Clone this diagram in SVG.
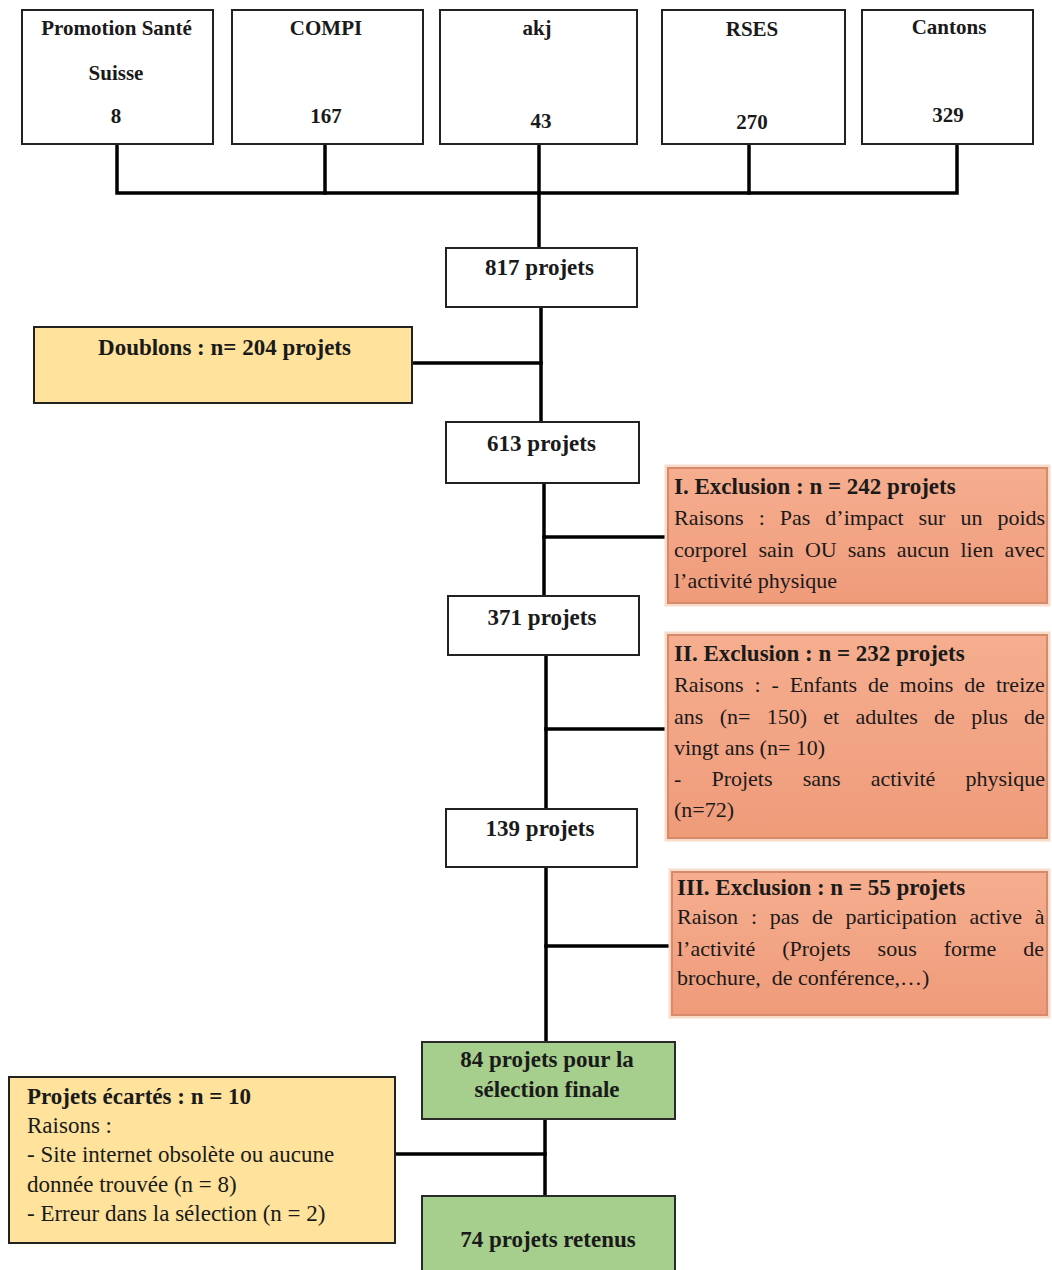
<svg xmlns="http://www.w3.org/2000/svg" width="1052" height="1270" viewBox="0 0 1052 1270">
<defs>
<linearGradient id="salGrad" x1="0" y1="0" x2="0" y2="1">
<stop offset="0" stop-color="#F5AE8F"/>
<stop offset="1" stop-color="#EF9B7A"/>
</linearGradient>
</defs>
<style>
.box{fill:#fff;stroke:#222;stroke-width:2}
.yel{fill:#FFE29B;stroke:#222;stroke-width:2}
.sal{fill:url(#salGrad);stroke:#D68A6B;stroke-width:2}
.glow{fill:none;stroke:#F8DCC9;stroke-width:7}
.grn{fill:#A6CF8D;stroke:#2a2a2a;stroke-width:2}
.conn path{stroke:#000;stroke-width:3.5;fill:none;stroke-linecap:square}
text{font-family:"Liberation Serif","Times New Roman",serif;fill:#1a1a1a}
.b{font-weight:bold}
.s21{font-size:21px}
.s22{font-size:22px}
.s23{font-size:23px}
.mid{text-anchor:middle}
</style>
<rect width="1052" height="1270" fill="#fff"/>

<g id="connectors" class="conn">
<path d="M117 144V193H957V144"/>
<path d="M325 144V193"/>
<path d="M749 144V193"/>
<path d="M539 144V248"/>
<path d="M541 307V422"/>
<path d="M412 363H541"/>
<path d="M544 483V596"/>
<path d="M544 537H668"/>
<path d="M546 655V809"/>
<path d="M546 729H668"/>
<path d="M546 867V1042"/>
<path d="M546 946H672"/>
<path d="M545 1119V1196"/>
<path d="M395 1154H545"/>
</g>

<g id="src-promotion">
<rect class="box" x="22" y="10" width="191" height="134"/>
<text class="b s21 mid" x="116.5" y="35">Promotion Santé</text>
<text class="b s21 mid" x="116" y="80">Suisse</text>
<text class="b s21 mid" x="116" y="123">8</text>
</g>
<g id="src-compi">
<rect class="box" x="232" y="10" width="191" height="134"/>
<text class="b s21 mid" x="326" y="35">COMPI</text>
<text class="b s21 mid" x="326" y="123">167</text>
</g>
<g id="src-akj">
<rect class="box" x="440" y="10" width="197" height="134"/>
<text class="b s21 mid" x="537" y="35">akj</text>
<text class="b s21 mid" x="541" y="128">43</text>
</g>
<g id="src-rses">
<rect class="box" x="662" y="10" width="183" height="134"/>
<text class="b s21 mid" x="752" y="36">RSES</text>
<text class="b s21 mid" x="752" y="129">270</text>
</g>
<g id="src-cantons">
<rect class="box" x="862" y="10" width="171" height="134"/>
<text class="b s21 mid" x="949" y="34">Cantons</text>
<text class="b s21 mid" x="948" y="122">329</text>
</g>

<g id="n817">
<rect class="box" x="446" y="248" width="191" height="59"/>
<text class="b s23 mid" x="539.5" y="275">817 projets</text>
</g>
<g id="doublons">
<rect class="yel" x="34" y="327" width="378" height="76"/>
<text class="b s23 mid" x="224.5" y="355">Doublons : n= 204 projets</text>
</g>
<g id="n613">
<rect class="box" x="446" y="422" width="193" height="61"/>
<text class="b s23 mid" x="541.5" y="451">613 projets</text>
</g>
<g id="excl1">
<rect class="glow" x="668" y="468" width="379" height="135"/>
<rect class="sal" x="668" y="468" width="379" height="135"/>
<text class="b s23" x="674" y="494">I. Exclusion : n =  242 projets</text>
<text class="s22" x="674" y="525" word-spacing="9.5">Raisons : Pas d’impact sur un poids</text>
<text class="s22" x="674" y="557" word-spacing="5.6">corporel sain OU sans aucun lien avec</text>
<text class="s22" x="674" y="588">l’activité physique</text>
</g>
<g id="n371">
<rect class="box" x="448" y="596" width="191" height="59"/>
<text class="b s23 mid" x="542" y="625">371 projets</text>
</g>
<g id="excl2">
<rect class="glow" x="668" y="635" width="379" height="203"/>
<rect class="sal" x="668" y="635" width="379" height="203"/>
<text class="b s23" x="674" y="661">II. Exclusion : n = 232 projets</text>
<text class="s22" x="674" y="692" word-spacing="5.4">Raisons : - Enfants de moins de treize</text>
<text class="s22" x="674" y="724" word-spacing="10.8">ans (n= 150) et adultes de plus de</text>
<text class="s22" x="674" y="755">vingt ans (n= 10)</text>
<text class="s22" x="674" y="786" word-spacing="24.6">- Projets sans activité physique</text>
<text class="s22" x="674" y="817">(n=72)</text>
</g>
<g id="n139">
<rect class="box" x="446" y="809" width="191" height="58"/>
<text class="b s23 mid" x="540" y="836">139 projets</text>
</g>
<g id="excl3">
<rect class="glow" x="672" y="872" width="375" height="143"/>
<rect class="sal" x="672" y="872" width="375" height="143"/>
<text class="b s23" x="677" y="895">III. Exclusion : n = 55 projets</text>
<text class="s22" x="677" y="924" word-spacing="7.3">Raison : pas de participation active à</text>
<text class="s22" x="677" y="956" word-spacing="21.5">l’activité (Projets sous forme de</text>
<text class="s22" x="677" y="985">brochure,&#160; de conférence,…)</text>
</g>
<g id="n84">
<rect class="grn" x="422" y="1042" width="253" height="77"/>
<text class="b s23 mid" x="547" y="1067">84 projets pour la</text>
<text class="b s23 mid" x="547" y="1097">sélection finale</text>
</g>
<g id="ecartes">
<rect class="yel" x="9" y="1077" width="386" height="166"/>
<text class="b s23" x="27" y="1104">Projets écartés : n = 10</text>
<text class="s23" x="27" y="1133">Raisons :</text>
<text class="s23" x="27" y="1162">- Site internet obsolète ou aucune</text>
<text class="s23" x="27" y="1192">donnée trouvée (n = 8)</text>
<text class="s23" x="27" y="1221">- Erreur dans la sélection (n = 2)</text>
</g>
<g id="n74">
<rect class="grn" x="422" y="1196" width="253" height="84"/>
<text class="b s23 mid" x="548" y="1247">74 projets retenus</text>
</g>
</svg>
